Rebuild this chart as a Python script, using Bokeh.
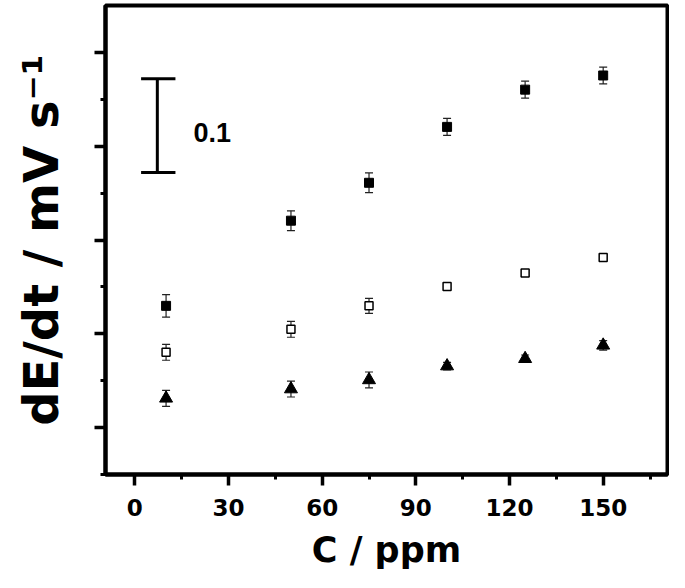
from bokeh.plotting import figure
from bokeh.models import (ColumnDataSource, Whisker, TeeHead, FixedTicker, Range1d, Label,
                          CustomJSTickFormatter)
from bokeh.embed import file_html
from bokeh.resources import INLINE

# ---- data ----
conc = [10, 50, 75, 100, 125, 150]
filled_sq = [0.2298, 0.3206, 0.3610, 0.4206, 0.4603, 0.4754]
filled_err = [0.0120, 0.0105, 0.0105, 0.0090, 0.0090, 0.0090]
open_sq = [0.1803, 0.2048, 0.2298, 0.2505, 0.2648, 0.2814]
open_err = [0.0085, 0.0085, 0.0080, 0.0030, 0.0030, 0.0030]
triangle = [0.1312, 0.1411, 0.1508, 0.1656, 0.1734, 0.1877]
tri_err = [0.0085, 0.0085, 0.0085, 0.0040, 0.0040, 0.0050]

x_ticks = [0, 30, 60, 90, 120, 150]
x_minor = [15, 45, 75, 105, 135, 165]
y_ticks = [0.1, 0.2, 0.3, 0.4, 0.5]
y_minor = [0.05, 0.15, 0.25, 0.35, 0.45]

# scale bar (0.1 mV/s)
bar_x = 7.2
bar_cap = [2.0, 13.0]
bar_bottom = 0.372
bar_top = 0.472
bar_label = "0.1"
bar_label_pos = (18.8, 0.415)

FONT = "DejaVu Sans"

p = figure(width=669, height=572, output_backend="svg", toolbar_location=None,
           x_range=Range1d(-9.4, 170.6), y_range=Range1d(0.05, 0.55),
           min_border_left=105, min_border_right=2, min_border_top=5, min_border_bottom=93)
p.grid.visible = False
p.background_fill_color = "white"
p.border_fill_color = "white"
p.outline_line_color = "black"
p.outline_line_width = 4

for ax in (p.xaxis[0], p.yaxis[0]):
    ax.axis_line_width = 4
    ax.axis_line_color = "black"
    ax.major_tick_in = 0
    ax.major_tick_out = 11
    ax.minor_tick_in = 0
    ax.minor_tick_out = 5
    ax.major_tick_line_width = 3.5
    ax.minor_tick_line_width = 3
    ax.major_tick_line_color = "black"
    ax.minor_tick_line_color = "black"
    ax.axis_label_text_font = FONT
    ax.axis_label_text_font_style = "bold"
    ax.axis_label_text_color = "black"
    ax.major_label_text_font = FONT
    ax.major_label_text_font_style = "bold"
    ax.major_label_text_color = "black"

p.xaxis.ticker = FixedTicker(ticks=x_ticks, minor_ticks=x_minor)
p.yaxis.ticker = FixedTicker(ticks=y_ticks, minor_ticks=y_minor)
p.xaxis.major_label_text_font_size = "23px"
p.xaxis.major_label_standoff = 13
p.xaxis.axis_label = "C / ppm"
p.xaxis.axis_label_text_font_size = "35px"
p.xaxis.axis_label_standoff = 11

p.yaxis.formatter = CustomJSTickFormatter(code="return ''")
p.yaxis.major_label_standoff = 0
p.yaxis.axis_label = "dE/dt / mV s\u207b\u00b9"
p.yaxis.axis_label_text_font_size = "48px"
p.yaxis.axis_label_standoff = 26

src = ColumnDataSource(dict(
    x=conc,
    f=filled_sq, f_lo=[v - e for v, e in zip(filled_sq, filled_err)], f_hi=[v + e for v, e in zip(filled_sq, filled_err)],
    o=open_sq, o_lo=[v - e for v, e in zip(open_sq, open_err)], o_hi=[v + e for v, e in zip(open_sq, open_err)],
    t=triangle, t_lo=[v - e for v, e in zip(triangle, tri_err)], t_hi=[v + e for v, e in zip(triangle, tri_err)],
))

for lo, hi in (("f_lo", "f_hi"), ("o_lo", "o_hi"), ("t_lo", "t_hi")):
    w = Whisker(base="x", lower=lo, upper=hi, source=src, line_color="#222222", line_width=1.2,
                upper_head=TeeHead(size=8, line_color="#222222", line_width=1.2),
                lower_head=TeeHead(size=8, line_color="#222222", line_width=1.2))
    p.add_layout(w)

p.scatter("x", "f", source=src, marker="square", size=9, fill_color="black", line_color="black")
p.scatter("x", "o", source=src, marker="square", size=8, fill_color="white", line_color="black", line_width=1.5)
p.scatter("x", "t", source=src, marker="triangle", size=13, fill_color="black", line_color="black")

# scale bar
p.segment(x0=[bar_x], y0=[bar_bottom], x1=[bar_x], y1=[bar_top], line_color="black", line_width=3)
p.segment(x0=[bar_cap[0], bar_cap[0]], y0=[bar_bottom, bar_top], x1=[bar_cap[1], bar_cap[1]],
          y1=[bar_bottom, bar_top], line_color="black", line_width=3)
p.add_layout(Label(x=bar_label_pos[0], y=bar_label_pos[1], text=bar_label, text_font="Liberation Sans",
                   text_font_style="bold", text_font_size="27px", text_baseline="middle",
                   text_align="left", text_color="black"))

open("out.html", "w").write(file_html(p, INLINE))
